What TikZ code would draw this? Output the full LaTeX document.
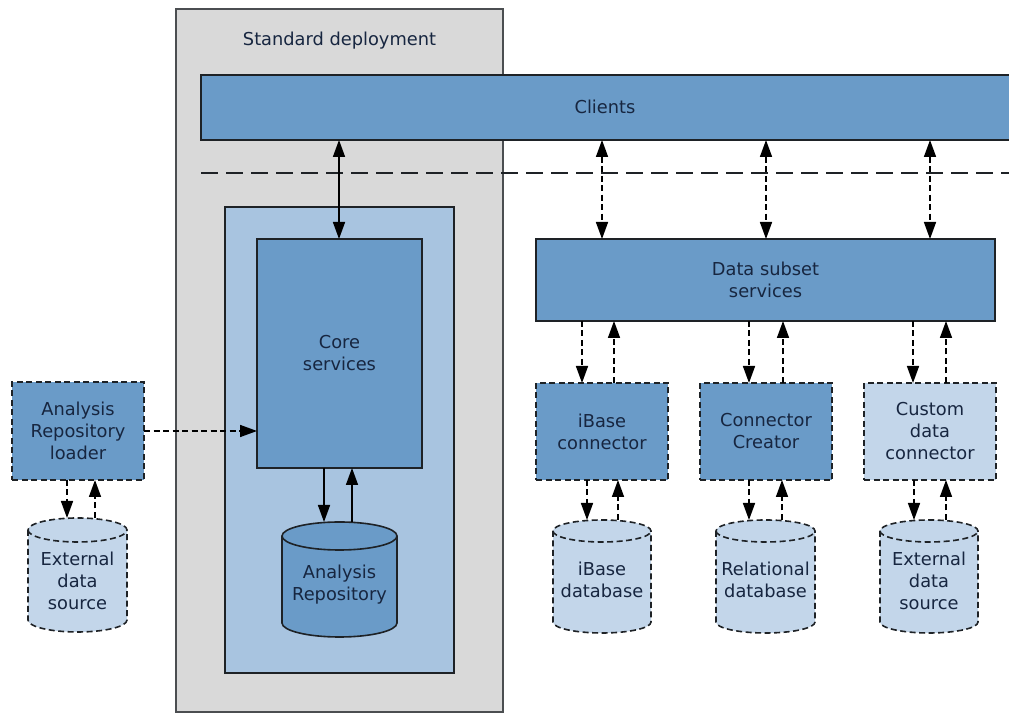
\documentclass[tikz,border=0pt]{standalone}
\usepackage{fontspec}
\setmainfont{DejaVu Sans}
\usetikzlibrary{arrows.meta}
\definecolor{midblue}{HTML}{6A9BC8}
\definecolor{innerblue}{HTML}{A8C4E0}
\definecolor{lightblue}{HTML}{C3D6EA}
\definecolor{grayfill}{HTML}{D9D9D9}
\definecolor{txt}{HTML}{172640}
\definecolor{edge}{HTML}{1E2226}
\newcommand\cyldraw[4]{%
  \path[#4] ([yshift=-#3]#1.north west) -- ([yshift=#3]#1.south west)
    arc[start angle=180,end angle=360,x radius=#2,y radius=#3]
    -- ([yshift=-#3]#1.north east)
    arc[start angle=0,end angle=180,x radius=#2,y radius=#3] -- cycle;
  \path[#4,fill=none] ([yshift=-#3]#1.north west)
    arc[start angle=180,end angle=360,x radius=#2,y radius=#3];
}
\begin{document}
\begin{tikzpicture}[x=1pt,y=1pt,
  every node/.style={font=\fontsize{17.8}{22}\selectfont, text=txt},
  box/.style={draw=edge, line width=1.6pt, fill=midblue, inner sep=0pt, outer sep=0pt, align=center},
  dbox/.style={box, dash pattern=on 6pt off 3.5pt},
  ghost/.style={draw=none, inner sep=0pt, outer sep=0pt},
  solidcyl/.style={draw=edge, line width=1.6pt, fill=midblue},
  dashcyl/.style={draw=edge, line width=1.6pt, fill=lightblue, dash pattern=on 6pt off 3.5pt},
  arr/.style={draw=black, line width=1.6pt, -{Triangle[length=17pt,width=12pt]}},
  darr/.style={arr, dash pattern=on 6pt off 3.5pt},
  dblarr/.style={draw=black, line width=1.6pt, {Triangle[length=17pt,width=12pt]}-{Triangle[length=17pt,width=12pt]}},
  ddblarr/.style={dblarr, dash pattern=on 6pt off 3.5pt}
]
\useasboundingbox (0,0) rectangle (1009,714);
\clip (0,0) rectangle (1009,714);

% standard deployment
\node[draw=edge!80, line width=1.6pt, fill=grayfill, inner sep=0pt, outer sep=0pt,
      minimum width=327, minimum height=703] (deploy) at (339.5,353.5) {};
\node (title) at (339.5,673) {Standard deployment};

% clients
\node[box, minimum width=811, minimum height=65] (clients) at (606.5,606.5) {};
\node (clientst) at (605,607) {Clients};

% separator
\coordinate (sepL) at (201,541);
\coordinate (sepR) at (1012,541);
\draw[edge, line width=2pt, dash pattern=on 17pt off 8pt] (sepL) -- (sepR);

% inner box and core
\node[box, fill=innerblue, minimum width=229, minimum height=466] (inner) at (339.5,274) {};
\node[box, minimum width=165, minimum height=229] (core) at (339.5,360.5) {Core\\services};

% analysis repository cylinder
\node[ghost, minimum width=115, minimum height=115] (arepo) at (339.5,134.5) {};
\cyldraw{arepo}{57.5pt}{14pt}{solidcyl}
\node[align=center] (arepot) at (339.5,129) {Analysis\\Repository};

% loader and external source
\node[dbox, minimum width=132, minimum height=98] (loader) at (78,283) {Analysis\\Repository\\loader};
\node[ghost, minimum width=99, minimum height=114] (ext1) at (77.5,139) {};
\cyldraw{ext1}{49.5pt}{12pt}{dashcyl}
\node[align=center] (ext1t) at (77.5,133) {External\\data\\source};

% data subset services
\node[box, minimum width=459, minimum height=82] (dss) at (765.5,434) {Data subset\\services};

% connectors
\node[dbox, minimum width=132, minimum height=97] (ibc) at (602,282.5) {iBase\\connector};
\node[dbox, minimum width=132, minimum height=97] (cc) at (766,282.5) {Connector\\Creator};
\node[dbox, fill=lightblue, minimum width=132, minimum height=97] (cdc) at (930,282.5) {Custom\\data\\connector};

% databases
\node[ghost, minimum width=98, minimum height=113] (ibdb) at (602,137.5) {};
\cyldraw{ibdb}{49pt}{11pt}{dashcyl}
\node[align=center] (ibdbt) at (602,134) {iBase\\database};
\node[ghost, minimum width=99, minimum height=113] (reldb) at (765.5,137.5) {};
\cyldraw{reldb}{49.5pt}{11pt}{dashcyl}
\node[align=center] (reldbt) at (765.5,134) {Relational\\database};
\node[ghost, minimum width=98, minimum height=113] (ext2) at (929,137.5) {};
\cyldraw{ext2}{49pt}{11pt}{dashcyl}
\node[align=center] (ext2t) at (929,133.5) {External\\data\\source};

% arrows
\draw[dblarr] ([xshift=-0.5pt]clients.south -| core.north) -- ([xshift=-0.5pt]core.north);
\draw[ddblarr] (ibc.north |- clients.south) -- (ibc.north |- dss.north);
\draw[ddblarr] (cc.north |- clients.south) -- (cc.north |- dss.north);
\draw[ddblarr] (cdc.north |- clients.south) -- (cdc.north |- dss.north);

\draw[darr] ([xshift=-20pt]ibc.north |- dss.south) -- ([xshift=-20pt]ibc.north);
\draw[darr] ([xshift=12pt]ibc.north) -- ([xshift=12pt]ibc.north |- dss.south);
\draw[darr] ([xshift=-17pt]cc.north |- dss.south) -- ([xshift=-17pt]cc.north);
\draw[darr] ([xshift=17pt]cc.north) -- ([xshift=17pt]cc.north |- dss.south);
\draw[darr] ([xshift=-17pt]cdc.north |- dss.south) -- ([xshift=-17pt]cdc.north);
\draw[darr] ([xshift=16pt]cdc.north) -- ([xshift=16pt]cdc.north |- dss.south);

\draw[darr] ([xshift=-15pt]ibc.south) -- ([xshift=-15pt]ibc.south |- ibdb.north);
\draw[darr] ([xshift=16pt]ibc.south |- ibdb.north) -- ([xshift=16pt]ibc.south);
\draw[darr] ([xshift=-17pt]cc.south) -- ([xshift=-17pt]cc.south |- reldb.north);
\draw[darr] ([xshift=16pt]cc.south |- reldb.north) -- ([xshift=16pt]cc.south);
\draw[darr] ([xshift=-16pt]cdc.south) -- ([xshift=-16pt]cdc.south |- ext2.north);
\draw[darr] ([xshift=16pt]cdc.south |- ext2.north) -- ([xshift=16pt]cdc.south);

\draw[darr] ([xshift=-11pt]loader.south) -- ([xshift=-11pt]loader.south |- ext1.north);
\draw[darr] ([xshift=17pt]loader.south |- ext1.north) -- ([xshift=17pt]loader.south);

\draw[arr] ([xshift=-15.5pt]core.south) -- ([xshift=-15.5pt]core.south |- arepo.north);
\draw[arr] ([xshift=12.5pt]core.south |- arepo.north) -- ([xshift=12.5pt]core.south);

\draw[darr] (loader.east) -- (loader.east -| core.west);
\end{tikzpicture}
\end{document}
